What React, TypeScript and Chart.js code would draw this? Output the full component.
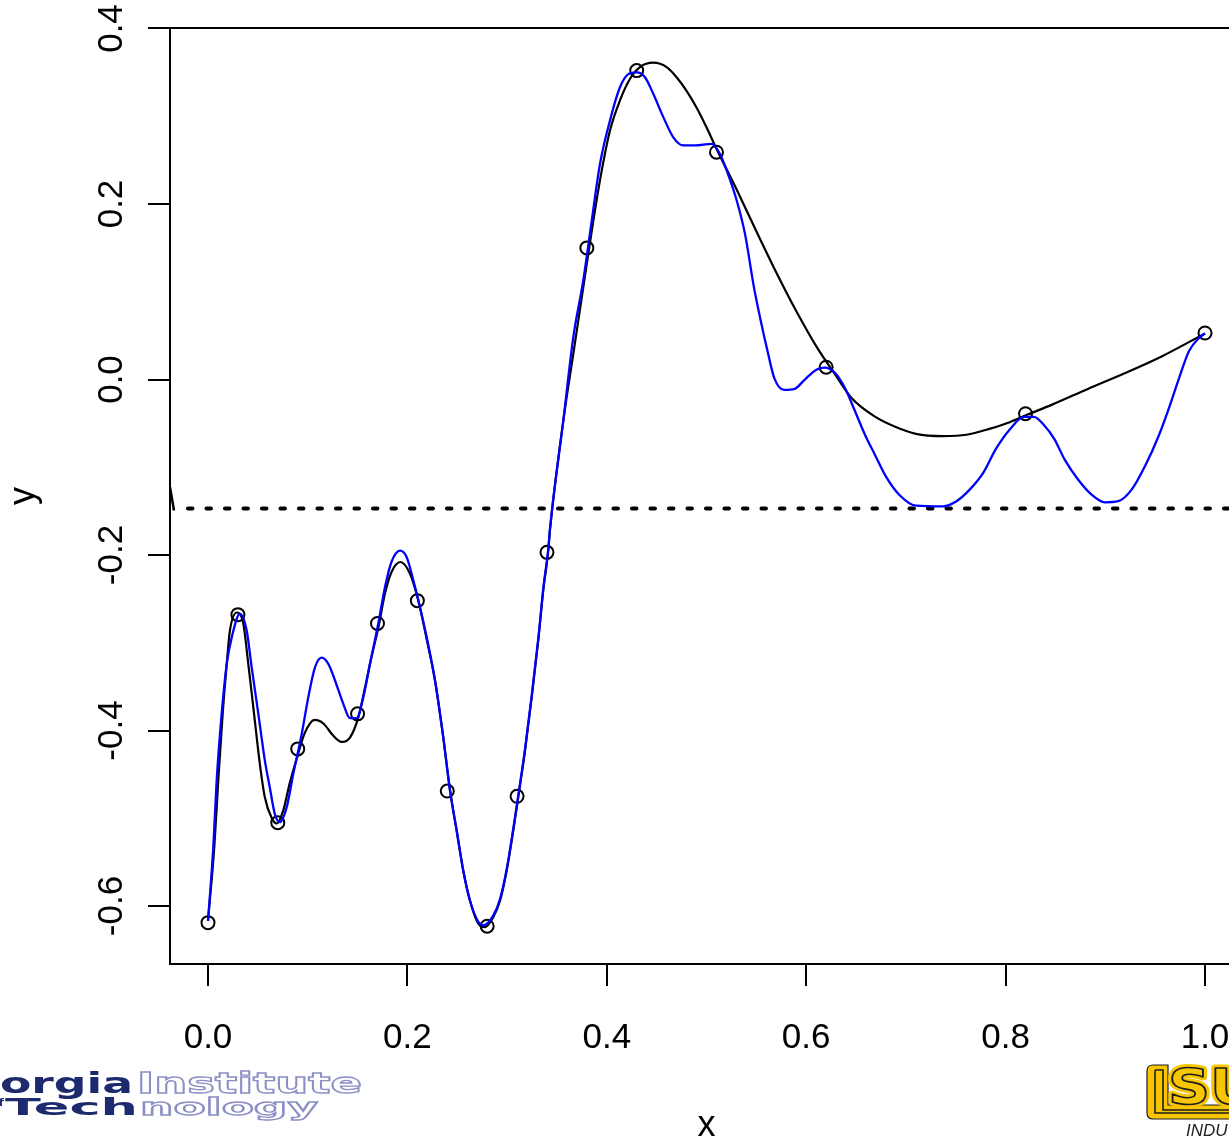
import React, { useEffect, useRef } from "react";
import { Chart, registerables } from "chart.js";

Chart.register(...registerables);

// ---- data -------------------------------------------------------------

// observed design points (circles)
const designX = [0, 0.03, 0.07, 0.09, 0.15, 0.17, 0.21, 0.24, 0.28, 0.31, 0.34, 0.38, 0.43, 0.51, 0.62, 0.82, 1.0];
const designY = [-0.619, -0.268, -0.505, -0.421, -0.381, -0.278, -0.252, -0.469, -0.623, -0.475, -0.197, 0.150, 0.352, 0.259, 0.014, -0.039, 0.053];

// smooth predictor (black)
const fitX = [
  0.0, 0.0063, 0.0103, 0.0147, 0.0188, 0.022, 0.029, 0.0354, 0.0404, 0.0454, 0.052, 0.057, 0.064, 0.069,
  0.0755, 0.082, 0.0906, 0.097, 0.107, 0.1157, 0.1257, 0.134, 0.1424, 0.1508, 0.1575, 0.164, 0.171,
  0.1775, 0.184, 0.193, 0.2026, 0.211, 0.219, 0.2277, 0.236, 0.2427, 0.2494, 0.256, 0.2628, 0.2711,
  0.2778, 0.286, 0.2929, 0.2996, 0.3062, 0.3112, 0.318, 0.3247, 0.3313, 0.3363, 0.3413, 0.343, 0.3564,
  0.3664, 0.3764, 0.3865, 0.3949, 0.4032, 0.4132, 0.4233, 0.4333, 0.4466, 0.46, 0.47, 0.48, 0.49, 0.5,
  0.51, 0.53, 0.55, 0.57, 0.59, 0.61, 0.63, 0.6457, 0.6694, 0.6898, 0.71, 0.737,
  0.7608, 0.7845, 0.8048, 0.822, 0.8455, 0.8826, 0.92, 0.957, 1.0,
];
const fitY = [
  -0.617, -0.533, -0.457, -0.381, -0.324, -0.286, -0.2655, -0.278, -0.324, -0.373, -0.438, -0.476, -0.5, -0.506,
  -0.491, -0.46, -0.426, -0.403, -0.388, -0.392, -0.406, -0.413, -0.408, -0.385, -0.351, -0.316, -0.282,
  -0.244, -0.2196, -0.208, -0.2214, -0.252, -0.294, -0.343, -0.408, -0.468, -0.514, -0.5595, -0.594, -0.62,
  -0.624, -0.613, -0.594, -0.5595, -0.514, -0.476, -0.423, -0.362, -0.297, -0.24, -0.195, -0.172, -0.0467,
  0.0293, 0.105, 0.181, 0.238, 0.2838, 0.318, 0.3427, 0.356, 0.361, 0.356, 0.3445, 0.329, 0.31, 0.2875,
  0.263, 0.217, 0.169, 0.122, 0.078, 0.038, 0.004, -0.0214, -0.0426, -0.0541, -0.0619, -0.0645,
  -0.063, -0.056, -0.0484, -0.04, -0.0292, -0.0107, 0.0074, 0.0266, 0.0525,
];

// alternative predictor (blue)
const altX = [
  0.0, 0.0053, 0.0087, 0.0137, 0.0188, 0.0238, 0.032, 0.0388, 0.0438, 0.0505, 0.057, 0.062, 0.067, 0.072,
  0.079, 0.0856, 0.094, 0.1006, 0.1073, 0.114, 0.1207, 0.1274, 0.1357, 0.1424, 0.149, 0.1558, 0.1625,
  0.1708, 0.1775, 0.184, 0.1926, 0.1993, 0.206, 0.2126, 0.2194, 0.2277, 0.236, 0.2427, 0.2494, 0.256,
  0.2628, 0.2711, 0.276, 0.286, 0.2929, 0.2996, 0.3062, 0.3112, 0.318, 0.3247, 0.3313, 0.3363, 0.3413,
  0.343, 0.3564, 0.3664, 0.3764, 0.3849, 0.3932, 0.4032, 0.4132, 0.4216, 0.43, 0.4383, 0.4466, 0.4567,
  0.4667, 0.4767, 0.4885, 0.5052, 0.5135, 0.5203, 0.5303, 0.5386, 0.5476, 0.5544, 0.5612, 0.568, 0.578,
  0.5883, 0.5984, 0.6102, 0.6187, 0.629, 0.639, 0.6492, 0.6593, 0.6694, 0.6796, 0.693, 0.71, 0.737,
  0.7507, 0.7642, 0.7777, 0.7903, 0.8048, 0.8184, 0.8285, 0.8386, 0.8488, 0.859, 0.8725, 0.886, 0.8996,
  0.913, 0.9266, 0.94, 0.9537, 0.9637, 0.974, 0.984, 0.9943, 1.0,
];
const altY = [
  -0.617, -0.533, -0.457, -0.381, -0.324, -0.294, -0.267, -0.286, -0.328, -0.381, -0.434, -0.465, -0.495, -0.5045,
  -0.487, -0.449, -0.404, -0.362, -0.328, -0.317, -0.324, -0.343, -0.3696, -0.386, -0.386, -0.362, -0.324,
  -0.278, -0.2367, -0.208, -0.195, -0.2025, -0.229, -0.2595, -0.294, -0.343, -0.408, -0.468, -0.514, -0.5595,
  -0.594, -0.618, -0.622, -0.611, -0.592, -0.558, -0.512, -0.474, -0.421, -0.36, -0.295, -0.238, -0.193,
  -0.17, -0.0467, 0.0482, 0.1128, 0.181, 0.2458, 0.2952, 0.333, 0.348, 0.35, 0.3445, 0.3256, 0.299,
  0.276, 0.2667, 0.2667, 0.2686, 0.257, 0.238, 0.204, 0.166, 0.105, 0.067, 0.0324, 0.0016, -0.0119,
  -0.0107, -0.0003, 0.0112, 0.0135, 0.0074, -0.0099, -0.0368, -0.0638, -0.0868, -0.1099, -0.131, -0.1437, -0.1445,
  -0.1387, -0.1252, -0.1061, -0.0791, -0.0561, -0.0426, -0.0426, -0.0522, -0.0676, -0.0907, -0.1137, -0.131, -0.14,
  -0.1387, -0.1252, -0.0983, -0.0638, -0.033, 0.0016, 0.0324, 0.0477, 0.0525,
];

// horizontal reference level (dotted)
const refLevel = -0.147;
// short stroke at the left frame edge
const edgeMarkX = [-0.0381, -0.0341];
const edgeMarkY = [-0.1227, -0.1493];

const xTicks = [0, 0.2, 0.4, 0.6, 0.8, 1.0];
const xTickLabels = ["0.0", "0.2", "0.4", "0.6", "0.8", "1.0"];
const yTicks = [-0.6, -0.4, -0.2, 0, 0.2, 0.4];
const yTickLabels = ["-0.6", "-0.4", "-0.2", "0.0", "0.2", "0.4"];

// ---- layout -------------------------------------------------------------

const W = 1229;
const H = 1141;
const PLOT_LEFT = 170;
const PLOT_TOP = 28;
const PLOT_BOTTOM = 964;
const X_MIN = -38 / 997;
const X_MAX = 1021 / 997;
const Y_MAX = 0.4 + 0.5 / 877.5;
const Y_MIN = -0.6 - 58 / 877.5;
const DOT_START = -0.0201;

const AXIS_FONT = '"Liberation Sans", Arial, Helvetica, sans-serif';

type Ctx = CanvasRenderingContext2D;

function stretched(ctx: Ctx, text: string, x: number, y: number, sx: number, mode: "fill" | "outline", color: string) {
  ctx.save();
  ctx.translate(x, y);
  ctx.scale(sx, 1);
  if (mode === "fill") {
    ctx.fillStyle = color;
    ctx.fillText(text, 0, 0);
  } else {
    ctx.fillStyle = "#ffffff";
    ctx.fillText(text, 0, 0);
    ctx.strokeStyle = color;
    ctx.lineWidth = 1.3;
    ctx.strokeText(text, 0, 0);
  }
  ctx.restore();
}

function drawGeorgiaTech(ctx: Ctx) {
  const navy = "#1d2a6e";
  const lilac = "#8b8fc4";
  ctx.textAlign = "left";
  ctx.textBaseline = "alphabetic";

  ctx.font = 'bold 29px "DejaVu Sans", sans-serif';
  const s1 = 133 / ctx.measureText("orgia").width;
  stretched(ctx, "Georgia", -s1 * ctx.measureText("Ge").width, 1093, s1, "fill", navy);
  const s2 = 225 / ctx.measureText("Institute").width;
  stretched(ctx, "Institute", 137, 1093, s2, "outline", lilac);

  ctx.font = 'bold 10px "DejaVu Sans", sans-serif';
  const sOf = 1.3;
  stretched(ctx, "of", 4 - sOf * ctx.measureText("of").width, 1106, sOf, "fill", navy);

  ctx.font = 'bold 23px "DejaVu Sans", sans-serif';
  const s3 = 133 / ctx.measureText("Tech").width;
  stretched(ctx, "Tech", 5, 1115, s3, "fill", navy);
  const s4 = 178 / ctx.measureText("nology").width;
  stretched(ctx, "nology", 140, 1115, s4, "outline", lilac);
}

function drawIsu(ctx: Ctx) {
  const gold = "#f7c600";
  const dark = "#1e1e1e";
  ctx.save();
  // I with base bar
  ctx.beginPath();
  ctx.moveTo(1153, 1065);
  ctx.lineTo(1168, 1065);
  ctx.lineTo(1168, 1105);
  ctx.lineTo(1232, 1105);
  ctx.lineTo(1232, 1119);
  ctx.lineTo(1153, 1119);
  ctx.quadraticCurveTo(1147, 1119, 1147, 1113);
  ctx.lineTo(1147, 1071);
  ctx.quadraticCurveTo(1147, 1065, 1153, 1065);
  ctx.closePath();
  ctx.fillStyle = gold;
  ctx.fill();
  ctx.strokeStyle = dark;
  ctx.lineWidth = 1.2;
  ctx.stroke();
  // inner dark outline of the I
  ctx.beginPath();
  ctx.moveTo(1155, 1070);
  ctx.lineTo(1163, 1070);
  ctx.lineTo(1163, 1110);
  ctx.lineTo(1232, 1110);
  ctx.moveTo(1155, 1070);
  ctx.lineTo(1155, 1113);
  ctx.lineTo(1232, 1113);
  ctx.lineWidth = 1.6;
  ctx.stroke();

  // S and U
  ctx.font = 'bold 50px "DejaVu Sans", sans-serif';
  ctx.textAlign = "left";
  ctx.textBaseline = "alphabetic";
  const sS = 42 / ctx.measureText("S").width;
  ctx.translate(1168, 1104);
  ctx.scale(sS, 1);
  ctx.lineJoin = "round";
  ctx.lineWidth = 7;
  ctx.strokeStyle = gold;
  ctx.strokeText("SU", 0, 0);
  ctx.fillStyle = gold;
  ctx.fillText("SU", 0, 0);
  ctx.lineWidth = 1.6;
  ctx.strokeStyle = dark;
  ctx.strokeText("SU", 0, 0);
  ctx.restore();

  ctx.save();
  ctx.font = 'italic 17px "Liberation Sans", Arial, sans-serif';
  ctx.fillStyle = "#222";
  ctx.textAlign = "left";
  ctx.textBaseline = "alphabetic";
  ctx.fillText("INDU", 1186, 1136);
  ctx.restore();
}

const framePlugin = {
  id: "frameAndLabels",
  afterDraw(chart: any) {
    const { ctx, chartArea, scales } = chart;
    ctx.save();
    // top edge of the box
    ctx.strokeStyle = "#000";
    ctx.lineWidth = 2;
    ctx.beginPath();
    ctx.moveTo(chartArea.left - 1, chartArea.top);
    ctx.lineTo(chartArea.right, chartArea.top);
    ctx.stroke();

    // y tick labels, parallel to the axis
    ctx.fillStyle = "#000";
    ctx.font = `35px ${AXIS_FONT}`;
    ctx.textAlign = "center";
    ctx.textBaseline = "alphabetic";
    yTicks.forEach((v, i) => {
      const py = scales.y.getPixelForValue(v);
      ctx.save();
      ctx.translate(122, py);
      ctx.rotate(-Math.PI / 2);
      ctx.fillText(yTickLabels[i], 0, 0);
      ctx.restore();
    });

    // axis titles
    ctx.font = `36px ${AXIS_FONT}`;
    const xMid = (scales.x.getPixelForValue(-0.04) + scales.x.getPixelForValue(1.04)) / 2;
    ctx.fillText("x", xMid, 1136);
    ctx.save();
    ctx.translate(34, (chartArea.top + chartArea.bottom) / 2);
    ctx.rotate(-Math.PI / 2);
    ctx.fillText("y", 0, 0);
    ctx.restore();

    drawGeorgiaTech(ctx);
    drawIsu(ctx);
    ctx.restore();
  },
};

export default function App() {
  const canvasRef = useRef<HTMLCanvasElement | null>(null);

  useEffect(() => {
    const canvas = canvasRef.current;
    if (!canvas) return;

    const pts = (xs: number[], ys: number[]) => xs.map((x, i) => ({ x, y: ys[i] }));

    const chart = new Chart(canvas, {
      type: "scatter",
      data: {
        datasets: [
          {
            label: "alternative",
            data: pts(altX, altY),
            showLine: true,
            borderColor: "#0000ff",
            borderWidth: 2.3,
            pointRadius: 0,
            cubicInterpolationMode: "monotone",
            order: 1,
          },
          {
            label: "fit",
            data: pts(fitX, fitY),
            showLine: true,
            borderColor: "#000000",
            borderWidth: 2.2,
            pointRadius: 0,
            cubicInterpolationMode: "monotone",
            order: 2,
          },
          {
            label: "level",
            data: [
              { x: DOT_START, y: refLevel },
              { x: X_MAX + 0.02, y: refLevel },
            ],
            showLine: true,
            borderColor: "#000000",
            borderWidth: 4,
            borderDash: [4.5, 14],
            borderCapStyle: "round",
            pointRadius: 0,
            order: 3,
          },
          {
            label: "edge",
            data: pts(edgeMarkX, edgeMarkY),
            showLine: true,
            borderColor: "#000000",
            borderWidth: 2.5,
            pointRadius: 0,
            order: 3,
          },
          {
            label: "design",
            data: pts(designX, designY),
            showLine: false,
            pointRadius: 6.5,
            pointBorderWidth: 2,
            pointBorderColor: "#000000",
            pointBackgroundColor: "rgba(0,0,0,0)",
            order: 4,
          },
        ],
      } as any,
      options: {
        responsive: false,
        animation: false,
        devicePixelRatio: 1,
        layout: { autoPadding: false, padding: { top: PLOT_TOP, left: 0, right: 0, bottom: 0 } },
        plugins: {
          legend: { display: false },
          tooltip: { enabled: false },
        },
        scales: {
          x: {
            type: "linear",
            position: "bottom",
            min: X_MIN,
            max: X_MAX,
            afterBuildTicks: (s: any) => {
              s.ticks = xTicks.map((value) => ({ value }));
            },
            afterFit: (s: any) => {
              s.height = H - PLOT_BOTTOM;
              s.paddingLeft = 0;
              s.paddingRight = 0;
            },
            grid: {
              drawOnChartArea: false,
              drawTicks: true,
              tickLength: 22,
              color: "#000",
              lineWidth: 2,
            },
            border: { display: true, color: "#000", width: 2 },
            ticks: {
              autoSkip: false,
              maxRotation: 0,
              minRotation: 0,
              padding: 31,
              color: "#000",
              font: { family: AXIS_FONT, size: 35 },
              callback: (_v: any, i: number) => xTickLabels[i],
            },
          },
          y: {
            type: "linear",
            position: "left",
            min: Y_MIN,
            max: Y_MAX,
            afterBuildTicks: (s: any) => {
              s.ticks = yTicks.map((value) => ({ value }));
            },
            afterFit: (s: any) => {
              s.width = PLOT_LEFT;
              s.paddingTop = 0;
              s.paddingBottom = 0;
            },
            grid: {
              drawOnChartArea: false,
              drawTicks: true,
              tickLength: 22,
              color: "#000",
              lineWidth: 2,
            },
            border: { display: true, color: "#000", width: 2 },
            ticks: { display: false },
          },
        },
      } as any,
      plugins: [framePlugin],
    });

    return () => chart.destroy();
  }, []);

  return (
    <div style={{ position: "absolute", left: 0, top: 0, width: W, height: H, background: "#fff", overflow: "hidden" }}>
      <canvas ref={canvasRef} width={W} height={H} style={{ display: "block", width: W, height: H }} />
    </div>
  );
}
